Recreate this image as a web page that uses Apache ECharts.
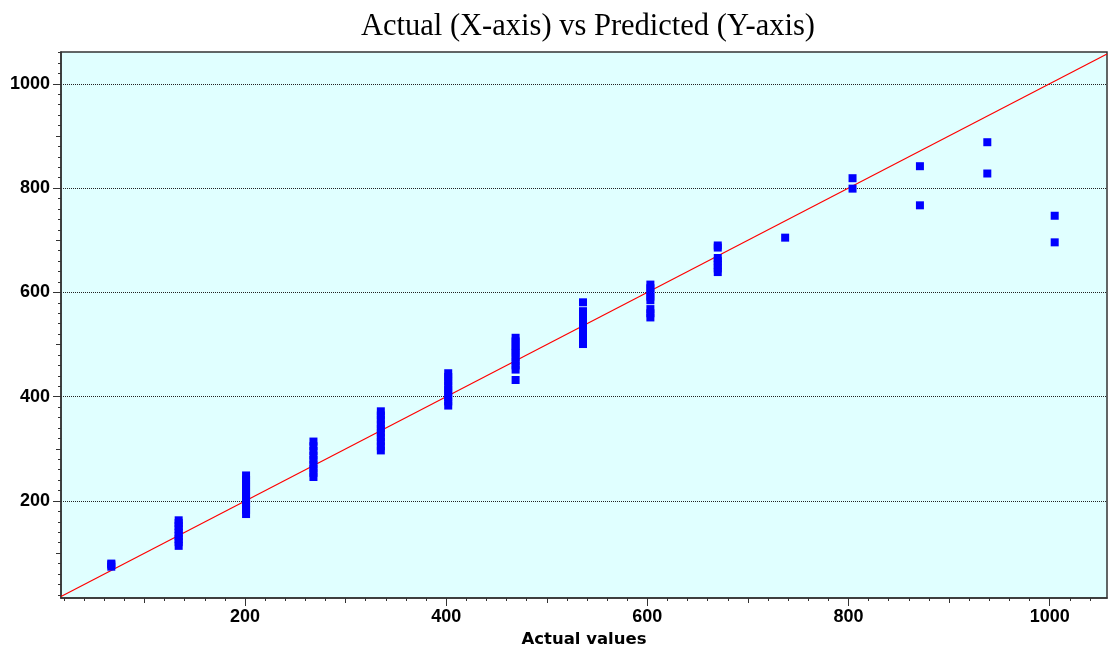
<!DOCTYPE html>
<html>
<head>
<meta charset="utf-8">
<title>Actual vs Predicted</title>
<script src="https://cdn.jsdelivr.net/npm/echarts@6/dist/echarts.min.js"></script>
<style>
  html, body { margin: 0; padding: 0; background: #ffffff; }
  #chart { width: 1108px; height: 653px; }
</style>
</head>
<body>
<div id="chart"></div>
<script>
// Actual target values (x) and the predictions made for each of them (y)
const actualValues = [67, 134, 201, 268, 335, 402, 469, 536, 603, 670, 737, 804, 871, 938, 1005];
const predictedValues = [
  [74, 78, 80],
  [114, 121, 127, 133, 139, 146, 152, 158, 163],
  [175, 183, 190, 197, 204, 211, 219, 226, 234, 241, 249],
  [246, 254, 262, 270, 279, 287, 296, 305, 314],
  [297, 305, 314, 322, 331, 339, 347, 356, 364, 372],
  [383, 391, 399, 407, 414, 422, 430, 438, 445],
  [432, 452, 460, 468, 476, 484, 491, 498, 506, 513],
  [501, 509, 517, 525, 533, 541, 549, 557, 564, 581],
  [552, 560, 568, 585, 592, 600, 608, 615],
  [639, 646, 653, 660, 666, 686, 690],
  [705],
  [799, 819],
  [767, 842],
  [828, 888],
  [696, 747]
];

// Axis extents and tick sets
const xRange = [17, 1057];
const yRange = [14, 1061];
const majorTicks = [200, 400, 600, 800, 1000];
const midTicks = [100, 300, 500, 700, 900];
const xMinorTicks = [];
for (let v = 20; v <= 1040; v += 20) xMinorTicks.push(v);
const yMinorTicks = [];
for (let v = 20; v <= 1060; v += 20) yMinorTicks.push(v);

// Perfect-prediction reference line y = x across the x range
const identityLine = [xRange[0], xRange[1]];

const points = [];
actualValues.forEach((a, i) => predictedValues[i].forEach(p => points.push([a, p])));

const axisColor = '#333333';
const labelFont = {
  fontFamily: 'Liberation Sans', fontWeight: 'bold', fontSize: 18, color: '#000000',
  formatter: v => String(Math.round(v))
};

function xAxisLayer(ticks, len, withLabels) {
  return {
    type: 'value', position: 'bottom', min: xRange[0], max: xRange[1],
    axisLine: { show: withLabels, onZero: false, lineStyle: { color: axisColor, width: 1.5 } },
    axisTick: { show: true, length: len, customValues: ticks, lineStyle: { color: axisColor, width: 1 } },
    axisLabel: withLabels ? Object.assign({ show: true, margin: 10, customValues: ticks }, labelFont) : { show: false },
    splitLine: { show: false },
    name: withLabels ? 'Actual values' : '',
    nameLocation: 'middle', nameGap: 33,
    nameTextStyle: { fontFamily: 'DejaVu Sans', fontWeight: 'bold', fontSize: 16.5, color: '#000000' }
  };
}

function yAxisLayer(ticks, len, withLabels) {
  return {
    type: 'value', position: 'left', min: yRange[0], max: yRange[1],
    axisLine: { show: withLabels, onZero: false, lineStyle: { color: axisColor, width: 1.5 } },
    axisTick: { show: true, length: len, customValues: ticks, lineStyle: { color: axisColor, width: 1 } },
    axisLabel: withLabels ? Object.assign({ show: true, margin: 11, customValues: ticks }, labelFont) : { show: false },
    splitLine: withLabels
      ? { show: true, lineStyle: { color: '#222222', width: 1, type: [1, 1] } }
      : { show: false }
  };
}

const chart = echarts.init(document.getElementById('chart'), null, { renderer: 'canvas' });
chart.setOption({
  animation: false,
  backgroundColor: '#ffffff',
  title: {
    text: 'Actual (X-axis) vs Predicted (Y-axis)',
    left: 583, textAlign: 'center', top: 6,
    textStyle: { fontFamily: 'Liberation Serif', fontWeight: 'normal', fontSize: 30.5, color: '#000000' }
  },
  grid: {
    left: 61, right: 1, top: 52, bottom: 55,
    show: true, backgroundColor: '#e0ffff', borderColor: axisColor, borderWidth: 1.5
  },
  xAxis: [
    xAxisLayer(majorTicks, 8, true),
    xAxisLayer(midTicks, 5, false),
    xAxisLayer(xMinorTicks, 3, false)
  ],
  yAxis: [
    yAxisLayer(majorTicks, 8, true),
    yAxisLayer(midTicks, 5, false),
    yAxisLayer(yMinorTicks, 3, false)
  ],
  series: [
    {
      type: 'line', xAxisIndex: 0, yAxisIndex: 0,
      data: identityLine.map(v => [v, v]),
      symbol: 'none', silent: true,
      lineStyle: { color: '#ff0000', width: 1.2 },
      z: 2
    },
    {
      type: 'scatter', xAxisIndex: 0, yAxisIndex: 0,
      data: points,
      symbol: 'rect', symbolSize: 8,
      itemStyle: { color: '#0000ff', opacity: 1 },
      z: 3
    }
  ]
});
</script>
</body>
</html>
